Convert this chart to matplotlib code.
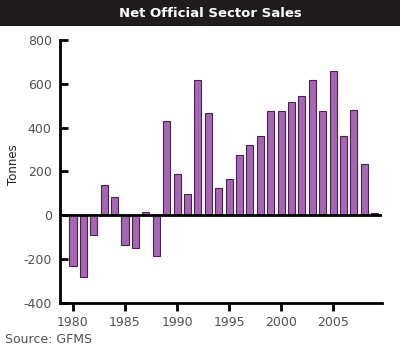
import matplotlib.pyplot as plt
from matplotlib.patches import Rectangle

plt.rcParams['axes.unicode_minus'] = False

years = list(range(1980, 2010))
sales = [-232, -280, -88, 140, 86, -137, -149, 15, -184, 429,
         187, 97, 617, 465, 127, 164, 275, 321, 361, 474,
         474, 518, 545, 616, 477, 660, 361, 481, 232, 11]
xticks = [1980, 1985, 1990, 1995, 2000, 2005]
yticks = [-400, -200, 0, 200, 400, 600, 800]

fig = plt.figure(figsize=(4, 3.5), dpi=100)

# black title band at the top
fig.patches.append(Rectangle((0, 0.925), 1, 0.075, transform=fig.transFigure,
                             facecolor='#1e1c1c', edgecolor='none'))
fig.text(0.527, 0.962, 'Net Official Sector Sales', color='white',
         fontsize=9.5, fontweight='bold', ha='center', va='center')

ax = fig.add_axes([0.15, 0.134, 0.805, 0.752])
ax.bar(years, sales, width=0.68, color='#a468b2', edgecolor='#4a2050', linewidth=0.8, zorder=2)
ax.axhline(0, color='black', linewidth=2, zorder=3)

ax.set_xlim(1978.75, 2009.7)
ax.set_ylim(-400, 800)
ax.set_xticks(xticks)
ax.set_yticks(yticks)

for s in ['top', 'right']:
    ax.spines[s].set_visible(False)
for s in ['left', 'bottom']:
    ax.spines[s].set_linewidth(2)

ax.tick_params(axis='y', direction='in', length=6, width=2, labelsize=9,
               labelcolor='#505050', pad=6)
ax.tick_params(axis='x', direction='out', length=6, width=2, labelsize=9,
               labelcolor='#505050', pad=3)

ax.set_ylabel('Tonnes', fontsize=8.5, color='#222222', labelpad=2)
ax.yaxis.set_label_coords(-0.125, 0.525)

fig.text(0.012, 0.03, 'Source: GFMS', fontsize=9, color='#505050', ha='left', va='center')

fig.savefig('out.png', dpi=100)
